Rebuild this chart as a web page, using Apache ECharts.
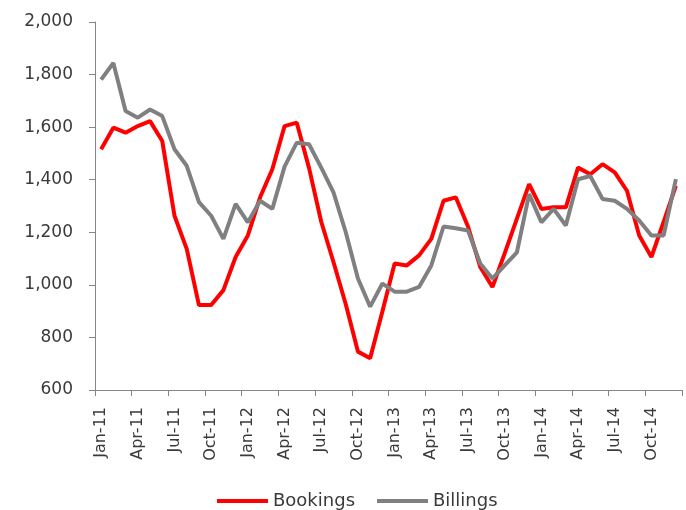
<!DOCTYPE html>
<html>
<head>
<meta charset="utf-8">
<script src="https://cdn.jsdelivr.net/npm/echarts@6/dist/echarts.min.js"></script>
<style>
html,body{margin:0;padding:0;background:#fff;}
#chart{width:686px;height:510px;}
</style>
</head>
<body>
<div id="chart"></div>
<script>
// months Jan-11 .. Dec-14
var months=['Jan-11','Feb-11','Mar-11','Apr-11','May-11','Jun-11','Jul-11','Aug-11','Sep-11','Oct-11','Nov-11','Dec-11',
    'Jan-12','Feb-12','Mar-12','Apr-12','May-12','Jun-12','Jul-12','Aug-12','Sep-12','Oct-12','Nov-12','Dec-12',
    'Jan-13','Feb-13','Mar-13','Apr-13','May-13','Jun-13','Jul-13','Aug-13','Sep-13','Oct-13','Nov-13','Dec-13',
    'Jan-14','Feb-14','Mar-14','Apr-14','May-14','Jun-14','Jul-14','Aug-14','Sep-14','Oct-14','Nov-14','Dec-14'];
var bookings=[1516,1598,1579,1604,1623,1547,1263,1137,923,923,980,1106,
    1188,1333,1440,1604,1617,1445,1240,1087,927,746,721,899,
    1081,1074,1112,1175,1320,1333,1222,1068,992,1120,1252,1383,
    1289,1295,1295,1446,1421,1459,1428,1358,1188,1106,1240,1377];
var billings=[1781,1844,1661,1636,1667,1642,1516,1453,1315,1263,1175,1308,
    1238,1320,1289,1450,1541,1535,1446,1352,1201,1024,917,1005,
    974,974,992,1074,1222,1215,1207,1081,1024,1074,1124,1345,
    1238,1289,1226,1402,1414,1327,1320,1289,1245,1188,1188,1402];
var seriesNames=['Bookings','Billings'];
var yMin=600, yMax=2000, yStep=200;

var font='DejaVu Sans';
var axisColor='#868686';
var textColor='#3a3a3a';

var myChart=echarts.init(document.getElementById('chart'));
var option={
    animation:false,
    color:['#ff0000','#808080'],
    grid:{left:95,right:4,top:22,bottom:120},
    legend:{
        data:seriesNames,
        left:212,
        top:487,
        icon:'rect',
        itemWidth:51,
        itemHeight:4,
        itemGap:22,
        textStyle:{fontFamily:font,fontSize:18,color:textColor}
    },
    xAxis:{
        type:'category',
        data:months,
        boundaryGap:true,
        axisLine:{lineStyle:{color:axisColor,width:1}},
        axisTick:{show:true,interval:2,length:6,lineStyle:{color:axisColor}},
        axisLabel:{
            interval:2,
            rotate:90,
            margin:17,
            fontFamily:font,
            fontSize:16,
            color:textColor
        },
        splitLine:{show:false}
    },
    yAxis:{
        type:'value',
        min:yMin,
        max:yMax,
        interval:yStep,
        axisLine:{show:true,lineStyle:{color:axisColor,width:1}},
        axisTick:{show:true,length:6,lineStyle:{color:axisColor}},
        axisLabel:{
            margin:22,
            fontFamily:font,
            fontSize:17,
            color:textColor,
            formatter:function (v) {return v.toLocaleString('en-US');}
        },
        splitLine:{show:false}
    },
    series:[
        {name:seriesNames[0],type:'line',data:bookings,symbol:'none',lineStyle:{width:4}},
        {name:seriesNames[1],type:'line',data:billings,symbol:'none',lineStyle:{width:4}}
    ]
};
myChart.setOption(option);
</script>
</body>
</html>
